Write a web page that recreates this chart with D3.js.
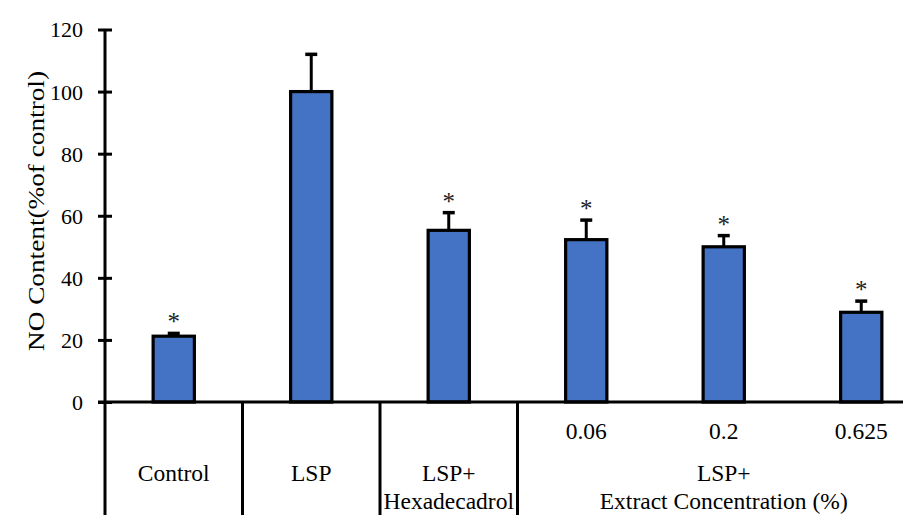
<!DOCTYPE html>
<html>
<head>
<meta charset="utf-8">
<script src="https://cdn.jsdelivr.net/npm/d3@7/dist/d3.min.js"></script>
<style>
  html, body { margin: 0; padding: 0; background: #fff; }
  svg { display: block; }
  svg text { font-family: "Liberation Serif", "DejaVu Serif", serif; fill: #000; }
</style>
</head>
<body>
<svg id="chart" width="903" height="526"></svg>
<script>
// NO content per treatment group, % of control (mean ± SD)
const categories = ["Control", "LSP", "LSP+Hexadecadrol", "0.06", "0.2", "0.625"];
const values = [21.2, 100, 55.3, 52.3, 50, 28.9];
const errors = [0.9, 12, 5.7, 6.3, 3.6, 3.6];
const significant = [true, false, true, true, true, true];
const yTicks = [0, 20, 40, 60, 80, 100, 120];

// Two-level category axis: inner row (concentrations) and outer groups
const innerLabels = ["", "", "", "0.06", "0.2", "0.625"];
const groupLabels = [["Control"], ["LSP"], ["LSP+", "Hexadecadrol"], ["LSP+", "Extract Concentration (%)"]];
const groupStart = [0, 1, 2, 3];
const groupEnd = [0, 1, 2, 5];

const yTitle = "NO Content(%of control)";

const FONT = "'Liberation Serif', 'DejaVu Serif', serif";
const svg = d3.select("#chart").attr("font-family", FONT);
const left = 105, zeroY = 402, topY = 29.5, axisBottom = 515;

const x = d3.scaleBand()
  .domain(categories)
  .range([left, 930])
  .paddingInner(0.7)
  .paddingOuter(0.35);
const step = x.step();

const y = d3.scaleLinear().domain([0, 120]).range([zeroY, topY]);

// Bars
svg.append("g").selectAll("rect")
  .data(categories)
  .join("rect")
  .attr("x", d => x(d))
  .attr("y", (d, i) => y(values[i]))
  .attr("width", x.bandwidth())
  .attr("height", (d, i) => y(0) - y(values[i]))
  .attr("fill", "#4472C4")
  .attr("stroke", "#000")
  .attr("stroke-width", 3.2);

// Error bars (upper half only)
const eb = svg.append("g").attr("stroke", "#000");
categories.forEach((c, i) => {
  const cx = x(c) + x.bandwidth() / 2;
  eb.append("line")
    .attr("x1", cx).attr("x2", cx)
    .attr("y1", y(values[i])).attr("y2", y(values[i] + errors[i]))
    .attr("stroke-width", 3);
  eb.append("line")
    .attr("x1", cx - 6).attr("x2", cx + 6)
    .attr("y1", y(values[i] + errors[i])).attr("y2", y(values[i] + errors[i]))
    .attr("stroke-width", 3.5);
});

// Significance markers
svg.append("g").selectAll("text")
  .data(categories.filter((c, i) => significant[i]))
  .join("text")
  .attr("x", d => x(d) + x.bandwidth() / 2)
  .attr("y", d => { const i = categories.indexOf(d); return y(values[i] + errors[i]) - 3; })
  .attr("text-anchor", "middle")
  .attr("font-family", FONT)
  .attr("font-size", 25)
  .style("fill", "#222")
  .text("*");

// Y axis with ticks crossing the line
const yAxis = svg.append("g")
  .attr("transform", `translate(${left},0)`)
  .call(d3.axisLeft(y).tickValues(yTicks).tickSizeInner(7).tickSizeOuter(0).tickPadding(15));
yAxis.attr("font-family", FONT).attr("font-size", 22);
yAxis.select(".domain").remove();
yAxis.selectAll(".tick line").attr("x1", 7).attr("x2", -7).attr("stroke", "#000").attr("stroke-width", 3);
yAxis.selectAll(".tick text")
  .attr("font-size", 22)
  .attr("font-family", FONT)
  .attr("dy", "0.34em");

const axes = svg.append("g").attr("stroke", "#000").attr("stroke-width", 3);
axes.append("line").attr("x1", left).attr("x2", left).attr("y1", topY).attr("y2", axisBottom);
axes.append("line").attr("x1", 98).attr("x2", 903).attr("y1", zeroY).attr("y2", zeroY);

// Group separators on the category axis
groupEnd.slice(0, -1).forEach(e => {
  const sx = x(categories[e]) - x.paddingOuter() * step + step;
  axes.append("line").attr("x1", sx).attr("x2", sx).attr("y1", zeroY).attr("y2", axisBottom);
});

// Inner row labels
svg.append("g").selectAll("text")
  .data(categories)
  .join("text")
  .attr("x", d => x(d) + x.bandwidth() / 2)
  .attr("y", 439)
  .attr("text-anchor", "middle")
  .attr("font-family", FONT)
  .attr("font-size", 23.5)
  .text((d, i) => innerLabels[i]);

// Outer group labels
const gl = svg.append("g").attr("text-anchor", "middle").attr("font-family", FONT).attr("font-size", 23.5);
groupLabels.forEach((lines, g) => {
  const a = x(categories[groupStart[g]]) + x.bandwidth() / 2;
  const b = x(categories[groupEnd[g]]) + x.bandwidth() / 2;
  const t = gl.append("text").attr("x", (a + b) / 2).attr("y", 481);
  lines.forEach((ln, k) => {
    t.append("tspan").attr("x", (a + b) / 2).attr("dy", k === 0 ? 0 : 27.5).text(ln);
  });
});

// Y axis title
svg.append("text")
  .attr("transform", "translate(44,211) rotate(-90)")
  .attr("text-anchor", "middle")
  .attr("font-family", FONT)
  .attr("font-size", 24)
  .attr("textLength", 280)
  .attr("lengthAdjust", "spacingAndGlyphs")
  .text(yTitle);
</script>
</body>
</html>
